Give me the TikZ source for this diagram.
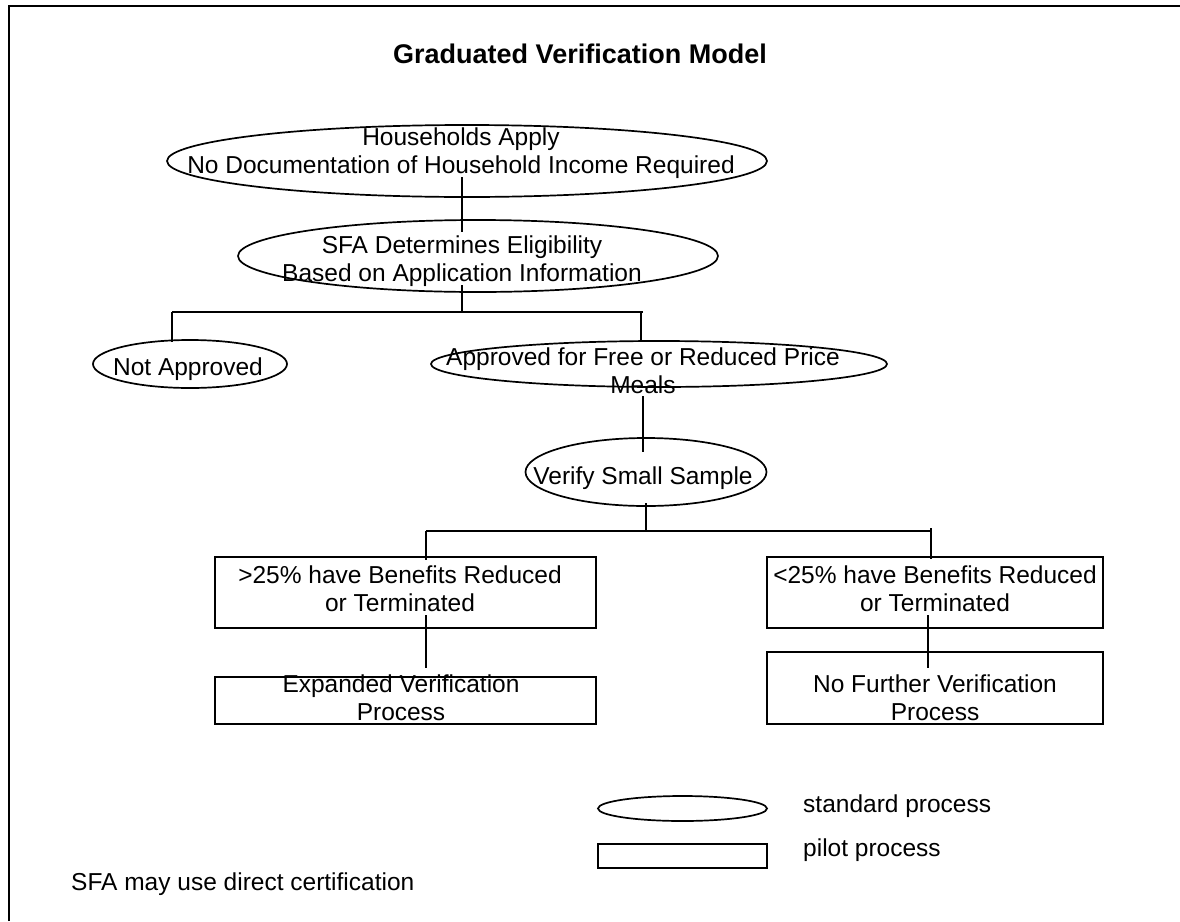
\documentclass[tikz,border=0pt]{standalone}
\usepackage{fontspec}
\setmainfont{Liberation Sans}
\usetikzlibrary{shapes.geometric}
\begin{document}
\begin{tikzpicture}[x=1pt,y=-1pt,
  shp/.style={draw, line width=1.7pt},
  ell/.style={shp, ellipse, inner sep=0pt},
  box/.style={shp, rectangle, inner sep=0pt},
  txt/.style={font=\fontsize{24.5}{28}\selectfont, align=center, inner sep=0pt},
  conn/.style={line width=2.6pt}]
\useasboundingbox (0,0) rectangle (1180,921);
\draw[line width=2pt] (9,921) -- (9,6) -- (1180,6);

\node[anchor=base west, inner sep=0pt, font=\fontsize{27}{32}\selectfont\bfseries] (title) at (393,63) {Graduated Verification Model};

% shapes
\node[ell, minimum width=600pt, minimum height=72pt] (e1) at (467,161) {};
\node[ell, minimum width=480pt, minimum height=72pt] (e2) at (478,256) {};
\node[ell, minimum width=194pt, minimum height=48pt] (e3) at (190,364) {};
\node[ell, minimum width=456pt, minimum height=46pt] (e4) at (659,364) {};
\node[ell, minimum width=241pt, minimum height=68pt] (e5) at (646,472) {};
\node[box, minimum width=381pt, minimum height=71pt] (b1) at (405.5,592.5) {};
\node[box, minimum width=336pt, minimum height=71pt] (b2) at (935,592.5) {};
\node[box, minimum width=381pt, minimum height=47pt] (b3) at (405.5,700.5) {};
\node[box, minimum width=336pt, minimum height=72pt] (b4) at (935,688) {};

% texts
\node[txt] (t1) at (461,153) {Households Apply\\No Documentation of Household Income Required};
\node[txt] (t2) at (462,261) {SFA Determines Eligibility\\Based on Application Information};
\node[txt] (t3) at (188,369) {Not Approved};
\node[txt] (t4) at (643,371) {Approved for Free or Reduced Price\\Meals};
\node[txt] (t5) at (643,478) {Verify Small Sample};
\node[txt] (t6) at (400,589) {>25\% have Benefits Reduced\\or Terminated};
\node[txt] (t7) at (935,589) {<25\% have Benefits Reduced\\or Terminated};
\node[txt] (t8) at (401,698) {Expanded Verification\\Process};
\node[txt] (t9) at (935,698) {No Further Verification\\Process};

% legend
\node[ell, minimum width=169pt, minimum height=25pt] (le) at (682.5,808.5) {};
\node[box, minimum width=169pt, minimum height=24pt] (lb) at (682.5,856) {};
\node[txt, anchor=west] (lt1) at (803,806) {standard process};
\node[txt, anchor=west] (lt2) at (803,850) {pilot process};
\node[txt, anchor=west] (note) at (71,884) {SFA may use direct certification};

% connector points
\coordinate (p1a) at (462,177);
\coordinate (p1b) at (462,232);
\coordinate (p2a) at (462,285);
\coordinate (j1) at (462,312);
\coordinate (j1l) at (172,312);
\coordinate (j1r) at (641,312);
\coordinate (j1e) at (643,312);
\coordinate (p3) at (172,342);
\coordinate (p4) at (641,340);
\coordinate (p5a) at (643,396);
\coordinate (p5b) at (643,452);
\coordinate (p6a) at (646,503);
\coordinate (j2) at (646,531);
\coordinate (j2l) at (426,531);
\coordinate (j2r) at (931,531);
\coordinate (j2t) at (931,528);
\coordinate (p7) at (426,560);
\coordinate (p8) at (931,559);
\coordinate (p9a) at (426,615);
\coordinate (p9b) at (426,668);
\coordinate (p10a) at (928,615);
\coordinate (p10b) at (928,668);

\draw[conn] (p1a) -- (p1b);
\draw[conn] (p2a) -- (j1);
\draw[conn] (j1l) -- (j1e);
\draw[conn] (j1l) -- (p3);
\draw[conn] (j1r) -- (p4);
\draw[conn] (p5a) -- (p5b);
\draw[conn] (p6a) -- (j2);
\draw[conn] (j2l) -- (j2r);
\draw[conn] (j2l) -- (p7);
\draw[conn] (j2t) -- (p8);
\draw[conn] (p9a) -- (p9b);
\draw[conn] (p10a) -- (p10b);
\end{tikzpicture}
\end{document}
